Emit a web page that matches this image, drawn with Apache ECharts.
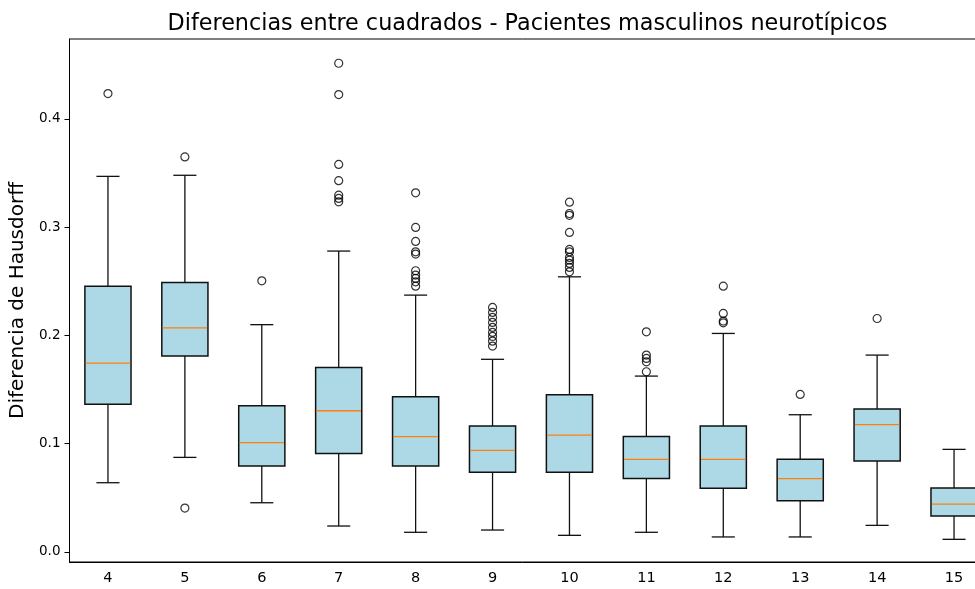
<!DOCTYPE html>
<html>
<head>
<meta charset="utf-8">
<script src="https://cdn.jsdelivr.net/npm/echarts@6/dist/echarts.min.js"></script>
<style>html,body{margin:0;padding:0;background:#fff}#c{width:975px;height:589px}</style>
</head>
<body>
<div id="c"></div>
<script>
const categories = ['4','5','6','7','8','9','10','11','12','13','14','15'];
const whiskerLow  = [0.064, 0.0874, 0.0455, 0.024, 0.0182, 0.0203, 0.0154, 0.0182, 0.0139, 0.0139, 0.0246, 0.0117];
const q1          = [0.1364, 0.181, 0.0794, 0.0911, 0.0794, 0.0736, 0.0736, 0.068, 0.0588, 0.0474, 0.084, 0.0332];
const medians     = [0.1745, 0.207, 0.101, 0.1305, 0.1065, 0.0939, 0.108, 0.0856, 0.0856, 0.0677, 0.1176, 0.0443];
const q3          = [0.2456, 0.249, 0.135, 0.1705, 0.1434, 0.1163, 0.1453, 0.1068, 0.1163, 0.0856, 0.132, 0.0591];
const whiskerHigh = [0.347, 0.348, 0.210, 0.278, 0.2373, 0.178, 0.2542, 0.1625, 0.2019, 0.1268, 0.1819, 0.0948];
const outliers = [
  [0.4235],
  [0.365, 0.0406],
  [0.2505],
  [0.4515, 0.4226, 0.358, 0.343, 0.3296, 0.3266, 0.3235],
  [0.3318, 0.2998, 0.2869, 0.2773, 0.2752, 0.2598, 0.2558, 0.2527, 0.2496, 0.2456],
  [0.2259, 0.2213, 0.2167, 0.2121, 0.2075, 0.2028, 0.1991, 0.1948, 0.1902],
  [0.3232, 0.3127, 0.311, 0.2952, 0.2795, 0.2773, 0.2721, 0.2696, 0.2666, 0.2629, 0.2588],
  [0.2034, 0.1819, 0.1788, 0.1757, 0.1665],
  [0.2456, 0.2204, 0.2133, 0.2117],
  [0.1456],
  [0.2157],
  []
];
const yTicks = [0, 0.1, 0.2, 0.3, 0.4];

const boxData = categories.map((c, i) => [i, whiskerLow[i], q1[i], medians[i], q3[i], whiskerHigh[i]]);
const outlierData = [];
outliers.forEach((arr, i) => arr.forEach(v => outlierData.push([i, v])));

function renderBox(params, api) {
  const x = api.value(0);
  const lo = api.coord([x, api.value(1)]);
  const b1 = api.coord([x, api.value(2)]);
  const md = api.coord([x, api.value(3)]);
  const b3 = api.coord([x, api.value(4)]);
  const hi = api.coord([x, api.value(5)]);
  const bw = api.size([1, 0])[0] * 0.6;
  const cw = bw / 2;
  const cx = lo[0];
  const ls = {stroke: '#111', lineWidth: 1.3};
  return {
    type: 'group',
    children: [
      {type: 'line', shape: {x1: cx, y1: lo[1], x2: cx, y2: b1[1]}, style: ls},
      {type: 'line', shape: {x1: cx, y1: b3[1], x2: cx, y2: hi[1]}, style: ls},
      {type: 'line', shape: {x1: cx - cw / 2, y1: lo[1], x2: cx + cw / 2, y2: lo[1]}, style: ls},
      {type: 'line', shape: {x1: cx - cw / 2, y1: hi[1], x2: cx + cw / 2, y2: hi[1]}, style: ls},
      {type: 'rect', shape: {x: cx - bw / 2, y: b3[1], width: bw, height: b1[1] - b3[1]},
        style: {fill: '#ADD8E6', stroke: '#111', lineWidth: 1.5}},
      {type: 'line', shape: {x1: cx - bw / 2 + 0.8, y1: md[1], x2: cx + bw / 2 - 0.8, y2: md[1]},
        style: {stroke: '#ff7f0e', lineWidth: 1.3}}
    ]
  };
}

const chart = echarts.init(document.getElementById('c'), null, {renderer: 'canvas'});
chart.setOption({
  animation: false,
  backgroundColor: '#fff',
  title: {
    text: 'Diferencias entre cuadrados - Pacientes masculinos neurotípicos',
    left: 522.5, top: 8, textAlign: 'center',
    textStyle: {fontFamily: 'DejaVu Sans', fontSize: 22.3, fontWeight: 'normal', color: '#000'}
  },
  grid: {left: 69.5, right: -17.5, top: 39, bottom: 27, show: true, borderColor: '#000', borderWidth: 1,
    backgroundColor: 'transparent', containLabel: false, outerBoundsMode: 'none'},
  xAxis: {
    type: 'category', data: categories, boundaryGap: true,
    axisLine: {onZero: false, lineStyle: {color: '#000', width: 1}},
    axisTick: {alignWithLabel: true, length: 5, lineStyle: {color: '#000'}},
    axisLabel: {fontFamily: 'DejaVu Sans', fontSize: 14.5, color: '#000', margin: 9},
    splitLine: {show: false}
  },
  yAxis: {
    type: 'value', min: -0.00924, max: 0.4739,
    name: 'Diferencia de Hausdorff', nameLocation: 'middle', nameGap: 40, nameRotate: 90,
    nameTextStyle: {fontFamily: 'DejaVu Sans', fontSize: 20, color: '#000'},
    axisLine: {show: true, lineStyle: {color: '#000', width: 1}},
    axisTick: {show: true, length: 5, lineStyle: {color: '#000'}, customValues: yTicks},
    axisLabel: {fontFamily: 'DejaVu Sans', fontSize: 13.5, color: '#000', margin: 9,
      customValues: yTicks, formatter: v => v.toFixed(1)},
    splitLine: {show: false}
  },
  series: [
    {type: 'custom', renderItem: renderBox, data: boxData, encode: {x: 0, y: [1, 2, 3, 4, 5]}, z: 2},
    {type: 'scatter', data: outlierData, symbol: 'circle', symbolSize: 8,
      itemStyle: {color: 'rgba(0,0,0,0)', borderColor: '#000', borderWidth: 1.2}, z: 3}
  ]
});
</script>
</body>
</html>
